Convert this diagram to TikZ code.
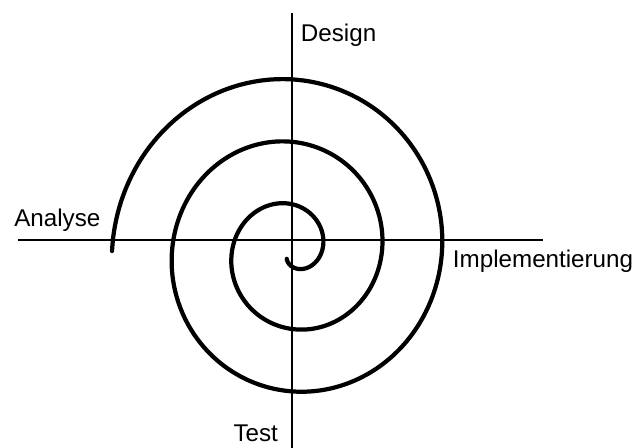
\documentclass[tikz,border=0pt]{standalone}
\usepackage{fontspec}
\setmainfont{Liberation Sans}
\usetikzlibrary{calc}

\begin{document}
\begin{tikzpicture}[x=0.25mm, y=0.25mm,
    axis/.style={line width=1.05pt},
    spiralline/.style={line width=3pt, line cap=round, line join=round},
    phase/.style={inner sep=0pt, anchor=base west, font=\fontsize{17.2}{20}\selectfont}]
  \useasboundingbox (-292,-208) rectangle (348,240);
  % axes
  \coordinate (west) at (-274,0);
  \coordinate (east) at (251,0);
  \coordinate (north) at (0,227);
  \coordinate (south) at (0,-208);
  \draw[axis] (west) -- (east);
  \draw[axis] (north) -- (south);
  % phases
  \node[phase] (design) at (8.7,198.3) {Design};
  \node[phase] (analyse) at (-278,13.3) {Analyse};
  \node[phase] (impl) at (160.7,-27.3) {Implementierung};
  \node[phase] (test) at (-58.7,-201.7) {Test};
  % spiral
  \coordinate (centre) at (0,-11);
  \draw[spiralline, shift={(centre)}] plot[domain=-125:900, samples=260, smooth, variable=\t]
    ({(30+\t/6)*cos(\t)}, {1.04*(30+\t/6)*sin(\t)});
\end{tikzpicture}
\end{document}
